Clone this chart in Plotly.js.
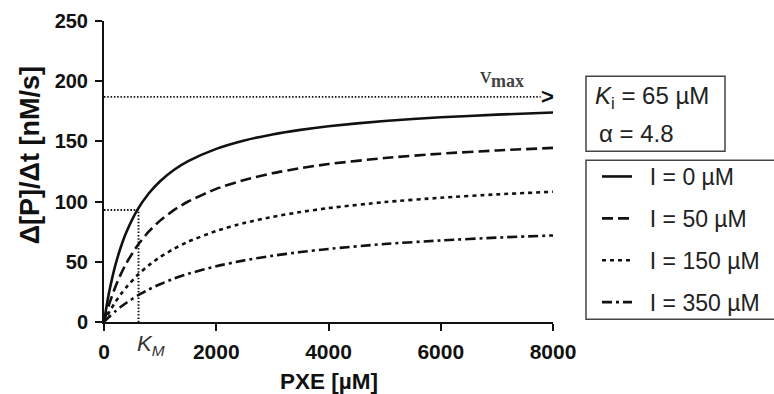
<!DOCTYPE html>
<html>
<head>
<meta charset="utf-8">
<script src="https://cdn.plot.ly/plotly-3.0.1.min.js"></script>
<style>html,body{margin:0;padding:0;background:#fff;}#chart{width:774px;height:394px;}</style>
</head>
<body>
<div id="chart"></div>
<script>
// substrate concentration PXE [µM]
const pxe = [0, 50, 100, 200, 300, 400, 600, 800, 1000, 1250, 1500, 2000, 2500, 3000, 3500, 4000, 5000, 6000, 7000, 8000];
// rate Δ[P]/Δt [nM/s]
const rateI0   = [0, 14.4, 26.7, 46.8, 62.3, 74.8, 93.5, 106.9, 116.9, 126.4, 133.6, 143.8, 150.8, 155.8, 159.6, 162.6, 167.0, 170.0, 172.2, 174.0];
const rateI50  = [0, 8.4, 15.9, 28.9, 39.8, 49.0, 63.8, 75.2, 84.2, 93.1, 100.1, 110.6, 118.0, 123.5, 127.8, 131.2, 136.2, 139.8, 142.5, 144.6];
const rateI150 = [0, 4.5, 8.8, 16.4, 23.1, 29.0, 39.1, 47.2, 54.0, 60.9, 66.7, 75.6, 82.2, 87.3, 91.3, 94.6, 99.6, 103.2, 106.0, 108.2];
const rateI350 = [0, 2.4, 4.6, 8.8, 12.6, 16.0, 22.0, 27.1, 31.4, 36.1, 40.0, 46.3, 51.2, 55.0, 58.1, 60.7, 64.8, 67.7, 70.1, 71.9];
const seriesNames = ["I = 0 µM", "I = 50 µM", "I = 150 µM", "I = 350 µM"];
// reference values
const vmax = 187;        // nM/s
const kmX = 615;         // µM
const kmY = 93;          // nM/s
const vmaxLineX = [0, 7780];
const xTicks = [0, 2000, 4000, 6000, 8000];
const yTicks = [0, 50, 100, 150, 200, 250];

const dashes = ["solid", "11px,5px", "4px,4px", "10px,4px,3px,4px"];
const rates = [rateI0, rateI50, rateI150, rateI350];

const traces = rates.map((r, i) => ({
  x: pxe, y: r, type: "scatter", mode: "lines",
  name: "\u00a0\u00a0" + seriesNames[i], legendgroup: "g" + i,
  line: {color: "#111", width: 2.6, dash: dashes[i], shape: "spline", smoothing: 0.6}
}));
// vmax dotted guide
traces.push({x: vmaxLineX, y: [vmax, vmax], type: "scatter", mode: "lines", showlegend: false,
  line: {color: "#111", width: 1.9, dash: "1.5px,1.8px"}, hoverinfo: "skip"});
// KM dotted guides
traces.push({x: [0, kmX, kmX], y: [kmY, kmY, 0], type: "scatter", mode: "lines", showlegend: false,
  line: {color: "#111", width: 1.9, dash: "1.5px,1.8px"}, hoverinfo: "skip"});

const F = "Liberation Sans, Arial, sans-serif";
const PX = 56.125 / 1000; // px per µM (for placing labels)
const layout = {
  width: 774, height: 394,
  margin: {l: 104, r: 221, t: 21, b: 72, pad: 0},
  paper_bgcolor: "#fff", plot_bgcolor: "#fff",
  showlegend: true,
  xaxis: {
    range: [0, 8000], tickvals: xTicks, ticktext: xTicks.map(String),
    showgrid: false, zeroline: false, showline: true, linewidth: 2, linecolor: "#111",
    ticks: "outside", ticklen: 7, tickwidth: 2, tickcolor: "#111",
    tickfont: {family: F, size: 21, color: "#111", weight: 700},
    ticklabelstandoff: 3
  },
  yaxis: {
    range: [0, 250], tickvals: yTicks, ticktext: yTicks.map(String),
    showgrid: false, zeroline: false, showline: true, linewidth: 2, linecolor: "#111",
    ticks: "outside", ticklen: 7, tickwidth: 2, tickcolor: "#111",
    tickfont: {family: F, size: 20, color: "#111", weight: 700},
    ticklabelstandoff: 3
  },
  legend: {
    xref: "container", yref: "container", x: 597/774, y: 1 - 155/394, xanchor: "left", yanchor: "top",
    borderwidth: 0, bgcolor: "rgba(0,0,0,0)",
    font: {family: F, size: 23, color: "#222"}, itemwidth: 30, tracegroupgap: 9
  },
  shapes: [
    {type: "rect", xref: "paper", yref: "paper", x0: (586-104)/449, x1: (725-104)/449,
     y0: (321.7-151)/301, y1: (321.7-76)/301, line: {color: "#444", width: 1.5}},
    {type: "rect", xref: "paper", yref: "paper", x0: (586-104)/449, x1: (777-104)/449,
     y0: (321.7-319)/301, y1: (321.7-160)/301, line: {color: "#444", width: 1.5}}
  ],
  annotations: [
    {text: "Δ[P]/Δt [nM/s]", xref: "paper", yref: "paper", x: (30-104)/449, y: (321.7-155)/301,
     textangle: -90, showarrow: false, xanchor: "center", yanchor: "middle",
     font: {family: F, size: 27, color: "#111", weight: 700}},
    {text: "PXE [µM]", xref: "paper", yref: "paper", x: 0.5, y: -(381-321.7)/301,
     showarrow: false, xanchor: "center", yanchor: "middle",
     font: {family: F, size: 22.5, color: "#111", weight: 700}},
    {text: "<i>K</i><sub><i>M</i></sub>", xref: "x", yref: "paper", x: kmX, y: -(345-321.7)/301,
     showarrow: false, xanchor: "left", yanchor: "middle", xshift: -4,
     font: {family: F, size: 22, color: "#333"}},
    {text: ">", xref: "x", yref: "y", x: 8000, y: vmax, showarrow: false, xanchor: "right", yanchor: "middle",
     xshift: 3, font: {family: F, size: 22, color: "#111", weight: 700}},
    {text: "v", xref: "x", yref: "y", x: (478-104)/PX, y: 204.5, showarrow: false, xanchor: "left", yanchor: "middle",
     font: {family: "Liberation Serif, serif", size: 23, color: "#333"}},
    {text: "max", xref: "x", yref: "y", x: (489-104)/PX, y: 200, showarrow: false, xanchor: "left", yanchor: "middle",
     font: {family: "Liberation Serif, serif", size: 18, color: "#444", weight: 700}},
    {text: "<i>K</i><sub>i</sub> = 65 µM", xref: "paper", yref: "paper", x: (593-104)/449, y: (321.7-97)/301,
     showarrow: false, xanchor: "left", yanchor: "middle", font: {family: F, size: 24, color: "#222"}},
    {text: "α = 4.8", xref: "paper", yref: "paper", x: (597-104)/449, y: (321.7-133)/301,
     showarrow: false, xanchor: "left", yanchor: "middle", font: {family: F, size: 24, color: "#222"}}
  ]
};
Plotly.newPlot("chart", traces, layout, {staticPlot: true, displayModeBar: false});
</script>
</body>
</html>
